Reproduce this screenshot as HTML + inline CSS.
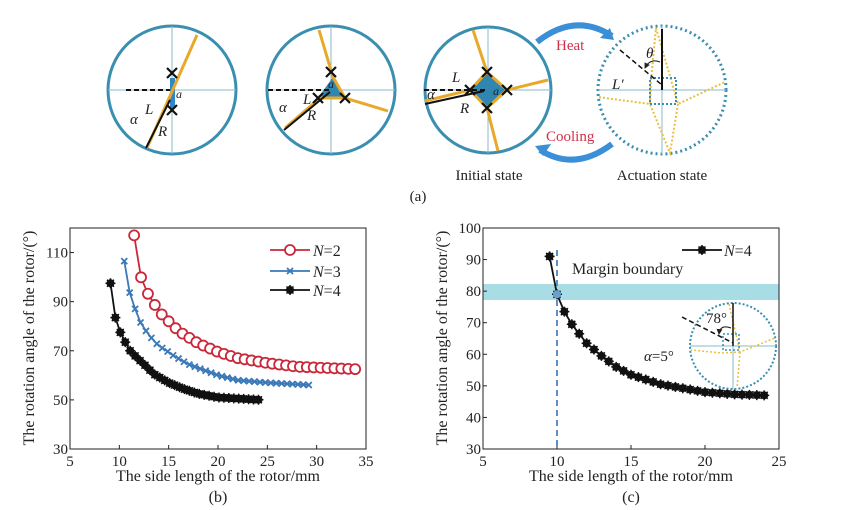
<!DOCTYPE html>
<html><head><meta charset="utf-8"><style>
body{margin:0;background:#fff}
svg{display:block;font-family:"Liberation Serif",serif}
</style></head><body>
<svg id="s" width="856" height="510" viewBox="0 0 856 510">
<defs><marker id="ah" markerWidth="6" markerHeight="6" refX="5" refY="3" orient="auto"><path d="M0,0L6,3L0,6z" fill="#222"/></marker></defs>
<!-- top diagram -->
<g fill="none" stroke-width="3">
 <circle cx="172" cy="90" r="64" stroke="#3a8fb0"/>
 <circle cx="331" cy="90" r="64" stroke="#3a8fb0"/>
 <circle cx="488" cy="90" r="63" stroke="#3a8fb0"/>
 <circle cx="662" cy="90" r="64" stroke="#3a8fb0" stroke-dasharray="2 3"/>
</g>
<g stroke="#8ab8cc" stroke-width="1">
 <path d="M108 90H236M172 26V154M267 90H395M331 26V154M425 90H551M488 27V153M598 90H726M662 26V154"/>
</g>
<!-- circle1 -->
<rect x="170" y="78" width="5" height="30" fill="#2f86c8"/>
<path d="M197 35L147 148" stroke="#e8a92a" stroke-width="3"/>
<path d="M146 148L170 100" stroke="#111" stroke-width="2"/>
<path d="M126 90H170" stroke="#111" stroke-width="2" stroke-dasharray="5 3"/>
<!-- circle2 -->
<path d="M333 77L345 98L318 98Z" fill="#2f86b0"/>
<path d="M319 30L333 77L345 98L388 111M345 98L320 98L285 128" fill="none" stroke="#e8a92a" stroke-width="3"/>
<path d="M284 130L330 92" stroke="#111" stroke-width="2"/>
<path d="M268 90H330" stroke="#111" stroke-width="2" stroke-dasharray="5 3"/>
<!-- circle3 -->
<path d="M487 72L507 90L487 108L470 90Z" fill="#2f86b0"/>
<path d="M473 30L487 72L507 90L548 80M507 90L487 108L498 151M487 108L470 90L425 101M470 90L487 72" fill="none" stroke="#e8a92a" stroke-width="3"/>
<path d="M425 104L484 91" stroke="#111" stroke-width="2"/>
<path d="M424 90H486" stroke="#111" stroke-width="2" stroke-dasharray="5 3"/>
<!-- circle4 -->
<g fill="none" stroke="#e8c040" stroke-width="2" stroke-dasharray="2 2">
 <path d="M656 28L678 104L725 82M678 104L670 153L650 104L598 97M650 104L651 80L656 28"/>
</g>
<rect x="650" y="78" width="26" height="26" fill="none" stroke="#3a8fb0" stroke-width="2" stroke-dasharray="2 2"/>
<path d="M662 29V90" stroke="#111" stroke-width="2"/>
<path d="M620 50L662 85" stroke="#111" stroke-width="1.5" stroke-dasharray="5 3"/>
<path d="M660 62Q650 58 645 68" fill="none" stroke="#111" stroke-width="1" marker-end="url(#ah)"/>
<g stroke="#111" stroke-width="2.2">
 <path d="M167 68l10 10M177 68l-10 10M167 105l10 10M177 105l-10 10"/>
 <path d="M326 67l10 10M336 67l-10 10M340 93l10 10M350 93l-10 10M313 93l10 10M323 93l-10 10"/>
 <path d="M482 67l10 10M492 67l-10 10M502 85l10 10M512 85l-10 10M482 103l10 10M492 103l-10 10M465 85l10 10M475 85l-10 10"/>
</g>
<g font-style="italic" font-size="15" fill="#222">
 <text x="145" y="114">L</text><text x="130" y="124">α</text><text x="158" y="136">R</text><text x="176" y="98" font-size="12">a</text>
 <text x="303" y="104">L</text><text x="279" y="112">α</text><text x="307" y="120">R</text><text x="328" y="88" font-size="12">a</text>
 <text x="452" y="82">L</text><text x="427" y="99">α</text><text x="460" y="113">R</text><text x="493" y="95" font-size="12">a</text>
 <text x="646" y="58">θ</text><text x="612" y="89">L′</text>
</g>
<path d="M537 42Q575 12 612 36" fill="none" stroke="#3a8fd6" stroke-width="6"/>
<path d="M614 40l-14 -2l10 -10z" fill="#3a8fd6"/>
<path d="M612 144Q575 172 540 150" fill="none" stroke="#3a8fd6" stroke-width="6"/>
<path d="M535 146l16 -2l-8 12z" fill="#3a8fd6"/>
<text x="556" y="50" font-size="15" fill="#d0304a">Heat</text>
<text x="546" y="141" font-size="15" fill="#d0304a">Cooling</text>
<text x="489" y="180" font-size="15" text-anchor="middle" fill="#222">Initial state</text>
<text x="662" y="180" font-size="15" text-anchor="middle" fill="#222">Actuation state</text>
<text x="418" y="201" font-size="15" text-anchor="middle" fill="#222">(a)</text>
<g id="charts"></g>
</svg>
<script>
const NS="http://www.w3.org/2000/svg";const G=document.getElementById('charts');
let h='';
function interp(pts,x){for(let i=0;i<pts.length-1;i++){if(x<=pts[i+1][0])return pts[i][1]+(pts[i+1][1]-pts[i][1])*(x-pts[i][0])/(pts[i+1][0]-pts[i][0]);}return pts[pts.length-1][1];}
function axes(x0,x1,y0,y1,xt,yt,X,Y){
 h+=`<rect x="${x0}" y="${y0}" width="${x1-x0}" height="${y1-y0}" fill="none" stroke="#222" stroke-width="1"/>`;
 xt.forEach(v=>{const x=X(v);h+=`<line x1="${x}" x2="${x}" y1="${y1}" y2="${y1-4}" stroke="#222"/><text x="${x}" y="${y1+17}" font-size="15" text-anchor="middle" fill="#222">${v}</text>`});
 yt.forEach(v=>{const y=Y(v);h+=`<line x1="${x0}" x2="${x0+4}" y1="${y}" y2="${y}" stroke="#222"/><text x="${x0-2}" y="${y+5}" font-size="15" text-anchor="end" fill="#222">${v}</text>`});
}
function series(pts,step,X,Y,col,mk){
 let d='';const xs=[];for(let x=pts[0][0];x<=pts[pts.length-1][0]+1e-6;x+=step)xs.push(x);
 xs.forEach((x,i)=>{d+=(i?'L':'M')+X(x).toFixed(1)+' '+Y(interp(pts,x)).toFixed(1)});
 h+=`<path d="${d}" fill="none" stroke="${col}" stroke-width="1.8"/>`;
 xs.forEach(x=>{const px=X(x),py=Y(interp(pts,x));h+=mark(px,py,col,mk)});
}
function mark(px,py,col,mk){
 if(mk=='o')return `<circle cx="${px}" cy="${py}" r="5" fill="#fff" stroke="${col}" stroke-width="1.8"/>`;
 if(mk=='x')return `<path d="M${px-3} ${py-3}l6 6M${px+3} ${py-3}l-6 6" stroke="${col}" stroke-width="1.8"/>`;
 return `<circle cx="${px}" cy="${py}" r="4" fill="${col}"/><path d="M${px-5} ${py}h10M${px} ${py-5}v10M${px-3.5} ${py-3.5}l7 7M${px+3.5} ${py-3.5}l-7 7" stroke="${col}" stroke-width="1.5"/>`;
}
// chart b
{const X=v=>70+(v-5)*296/30,Y=v=>449-(v-30)*221/90;
 axes(70,366,228,449,[5,10,15,20,25,30,35],[30,50,70,90,110],X,Y);
 series([[11.5,117],[12.1,101],[12.7,94.5],[13.4,90],[14,86],[15,82],[16,78],[18,73],[20,69.5],[22,67],[25,65],[28,63.5],[34,62.5]],0.7,X,Y,'#c8283a','o');
 series([[10.5,106.5],[11.1,92.5],[11.7,86],[12.2,81],[12.8,77.5],[13.4,74.5],[14,72],[14.8,70],[15.5,68],[17,64.5],[20,60],[22,58],[25,57],[29.5,56]],0.55,X,Y,'#3a78b8','x');
 series([[9.1,97.5],[9.6,83.5],[10.1,77.5],[10.6,73.5],[11.1,70],[11.7,67.5],[12.5,64.5],[13.5,60.5],[15,57],[16.5,54.5],[18,52.5],[20,51],[24.3,50]],0.5,X,Y,'#111','*');
 [[40,'#c8283a','o','2'],[61,'#3a78b8','x','3'],[80,'#111','*','4']].forEach(([yy,c,m,n])=>{yy+=210;
  h+=`<line x1="270" x2="310" y1="${yy}" y2="${yy}" stroke="${c}" stroke-width="1.8"/>`+mark(290,yy,c,m)+`<text x="313" y="${yy+6}" font-size="16" fill="#222"><tspan font-style="italic">N</tspan>=${n}</text>`;});
 h+=`<text transform="translate(34 338) rotate(-90)" font-size="16" text-anchor="middle" fill="#222">The rotation angle of the rotor/(°)</text>`;
 h+=`<text x="218" y="481" font-size="16" text-anchor="middle" fill="#222">The side length of the rotor/mm</text><text x="218" y="502" font-size="16" text-anchor="middle" fill="#222">(b)</text>`;
}
// chart c
{const X=v=>483+(v-5)*296/20,Y=v=>449-(v-30)*221/70;
 h+=`<rect x="483" y="284" width="296" height="16" fill="#a8dde6"/>`;
 axes(483,779,228,449,[5,10,15,20,25],[30,40,50,60,70,80,90,100],X,Y);
 h+=`<line x1="${X(10)}" x2="${X(10)}" y1="250" y2="449" stroke="#5a8fc8" stroke-width="2" stroke-dasharray="6 4"/>`;
 series([[9.5,91],[10,79],[10.5,73.5],[11,69.5],[11.5,66.5],[12,63.5],[12.5,61.5],[13,59.5],[14,56],[15,53.5],[17,50.5],[20,48],[22,47.3],[24,47]],0.5,X,Y,'#111','*');
 h+=`<circle cx="${X(10)}" cy="${Y(79)}" r="4" fill="#6a9fd0"/>`;
 h+=`<line x1="682" x2="722" y1="250" y2="250" stroke="#111" stroke-width="1.8"/>`+mark(702,250,'#111','*')+`<text x="724" y="256" font-size="16" fill="#222"><tspan font-style="italic">N</tspan>=4</text>`;
 h+=`<text x="572" y="274" font-size="16" fill="#222">Margin boundary</text>`;
 h+=`<g fill="none"><circle cx="733" cy="346" r="43" stroke="#3a8fb0" stroke-width="2" stroke-dasharray="2 2"/><path d="M690 346H776M733 303V389" stroke="#8ab8cc"/><path d="M729 304L740 352L775 338M740 352L737 388M740 352L722 353L691 350" stroke="#e8c040" stroke-width="1.5" stroke-dasharray="2 2"/><rect x="723" y="334" width="16" height="16" stroke="#3a8fb0" stroke-width="1.5" stroke-dasharray="2 2"/><path d="M733 303V346" stroke="#111" stroke-width="1.5"/><path d="M682 317L733 343" stroke="#111" stroke-width="1.5" stroke-dasharray="5 3"/><path d="M731 328Q720 324 719 334" stroke="#111" marker-end="url(#ah)"/></g>`;
 h+=`<text x="706" y="323" font-size="15" fill="#222">78°</text><text x="644" y="361" font-size="15" fill="#222"><tspan font-style="italic">α</tspan>=5°</text>`;
 h+=`<text transform="translate(447 338) rotate(-90)" font-size="16" text-anchor="middle" fill="#222">The rotation angle of the rotor/(°)</text>`;
 h+=`<text x="631" y="481" font-size="16" text-anchor="middle" fill="#222">The side length of the rotor/mm</text><text x="631" y="502" font-size="16" text-anchor="middle" fill="#222">(c)</text>`;
}
G.innerHTML=h;
</script>
</body></html>
